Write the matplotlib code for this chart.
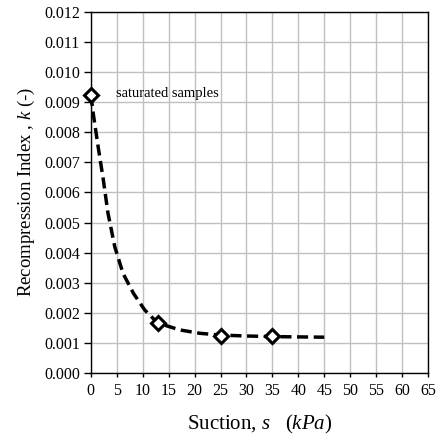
import matplotlib
matplotlib.use('Agg')
import matplotlib.pyplot as plt

plt.rcParams['font.family'] = 'Liberation Serif'
plt.rcParams['mathtext.fontset'] = 'custom'
plt.rcParams['mathtext.rm'] = 'Liberation Serif'
plt.rcParams['mathtext.it'] = 'Liberation Serif:italic'

# measured samples
suction = [0, 13, 25, 35]
k_index = [0.00924, 0.00165, 0.00124, 0.00123]

# fitted curve
fit_s = [0, 0.45, 1.4, 2.4, 3.3, 4.6, 6.2, 8.2, 10.4, 12.9, 17.2, 21.0, 25, 30, 35, 40, 45]
fit_k = [0.00924, 0.00863, 0.00752, 0.00642, 0.00531, 0.00420, 0.00331, 0.00265,
         0.00209, 0.00166, 0.00143, 0.00132, 0.00126, 0.00123, 0.00121, 0.00120, 0.00119]

xticks = list(range(0, 70, 5))
yticks = [i / 1000 for i in range(0, 13)]

fig = plt.figure(figsize=(4.39, 4.43), dpi=100)
ax = fig.add_axes([0.207, 0.158, 0.768, 0.815])

ax.plot(fit_s, fit_k, color='black', lw=2.5, ls=(0, (3.2, 1.6)), zorder=3, clip_on=False)
ax.plot(suction, k_index, ls='none', marker='D', ms=7, mfc='white', mec='black', mew=2.2,
        zorder=4, clip_on=False)
ax.text(4.8, 0.0093, 'saturated samples', fontsize=10.5, va='center', ha='left')

ax.set_xlim(0, 65)
ax.set_ylim(0, 0.012)
ax.set_xticks(xticks)
ax.set_yticks(yticks)
ax.set_yticklabels(['%.3f' % v for v in yticks])
ax.tick_params(labelsize=11.5, direction='out', width=1, colors='black')
ax.tick_params(axis='y', length=5, pad=3)
ax.tick_params(axis='x', length=3, pad=4)
ax.grid(True, color='#c0c0c0', lw=1)
ax.set_axisbelow(True)
for sp in ax.spines.values():
    sp.set_color('black')
    sp.set_linewidth(1)

ax.set_xlabel(r'Suction, $s$   $(kPa)$', fontsize=15, labelpad=10)
ax.set_ylabel(r'Recompression Index , $k$ $($-$)$', fontsize=13.5, labelpad=5)

fig.savefig('out.png', dpi=100)
